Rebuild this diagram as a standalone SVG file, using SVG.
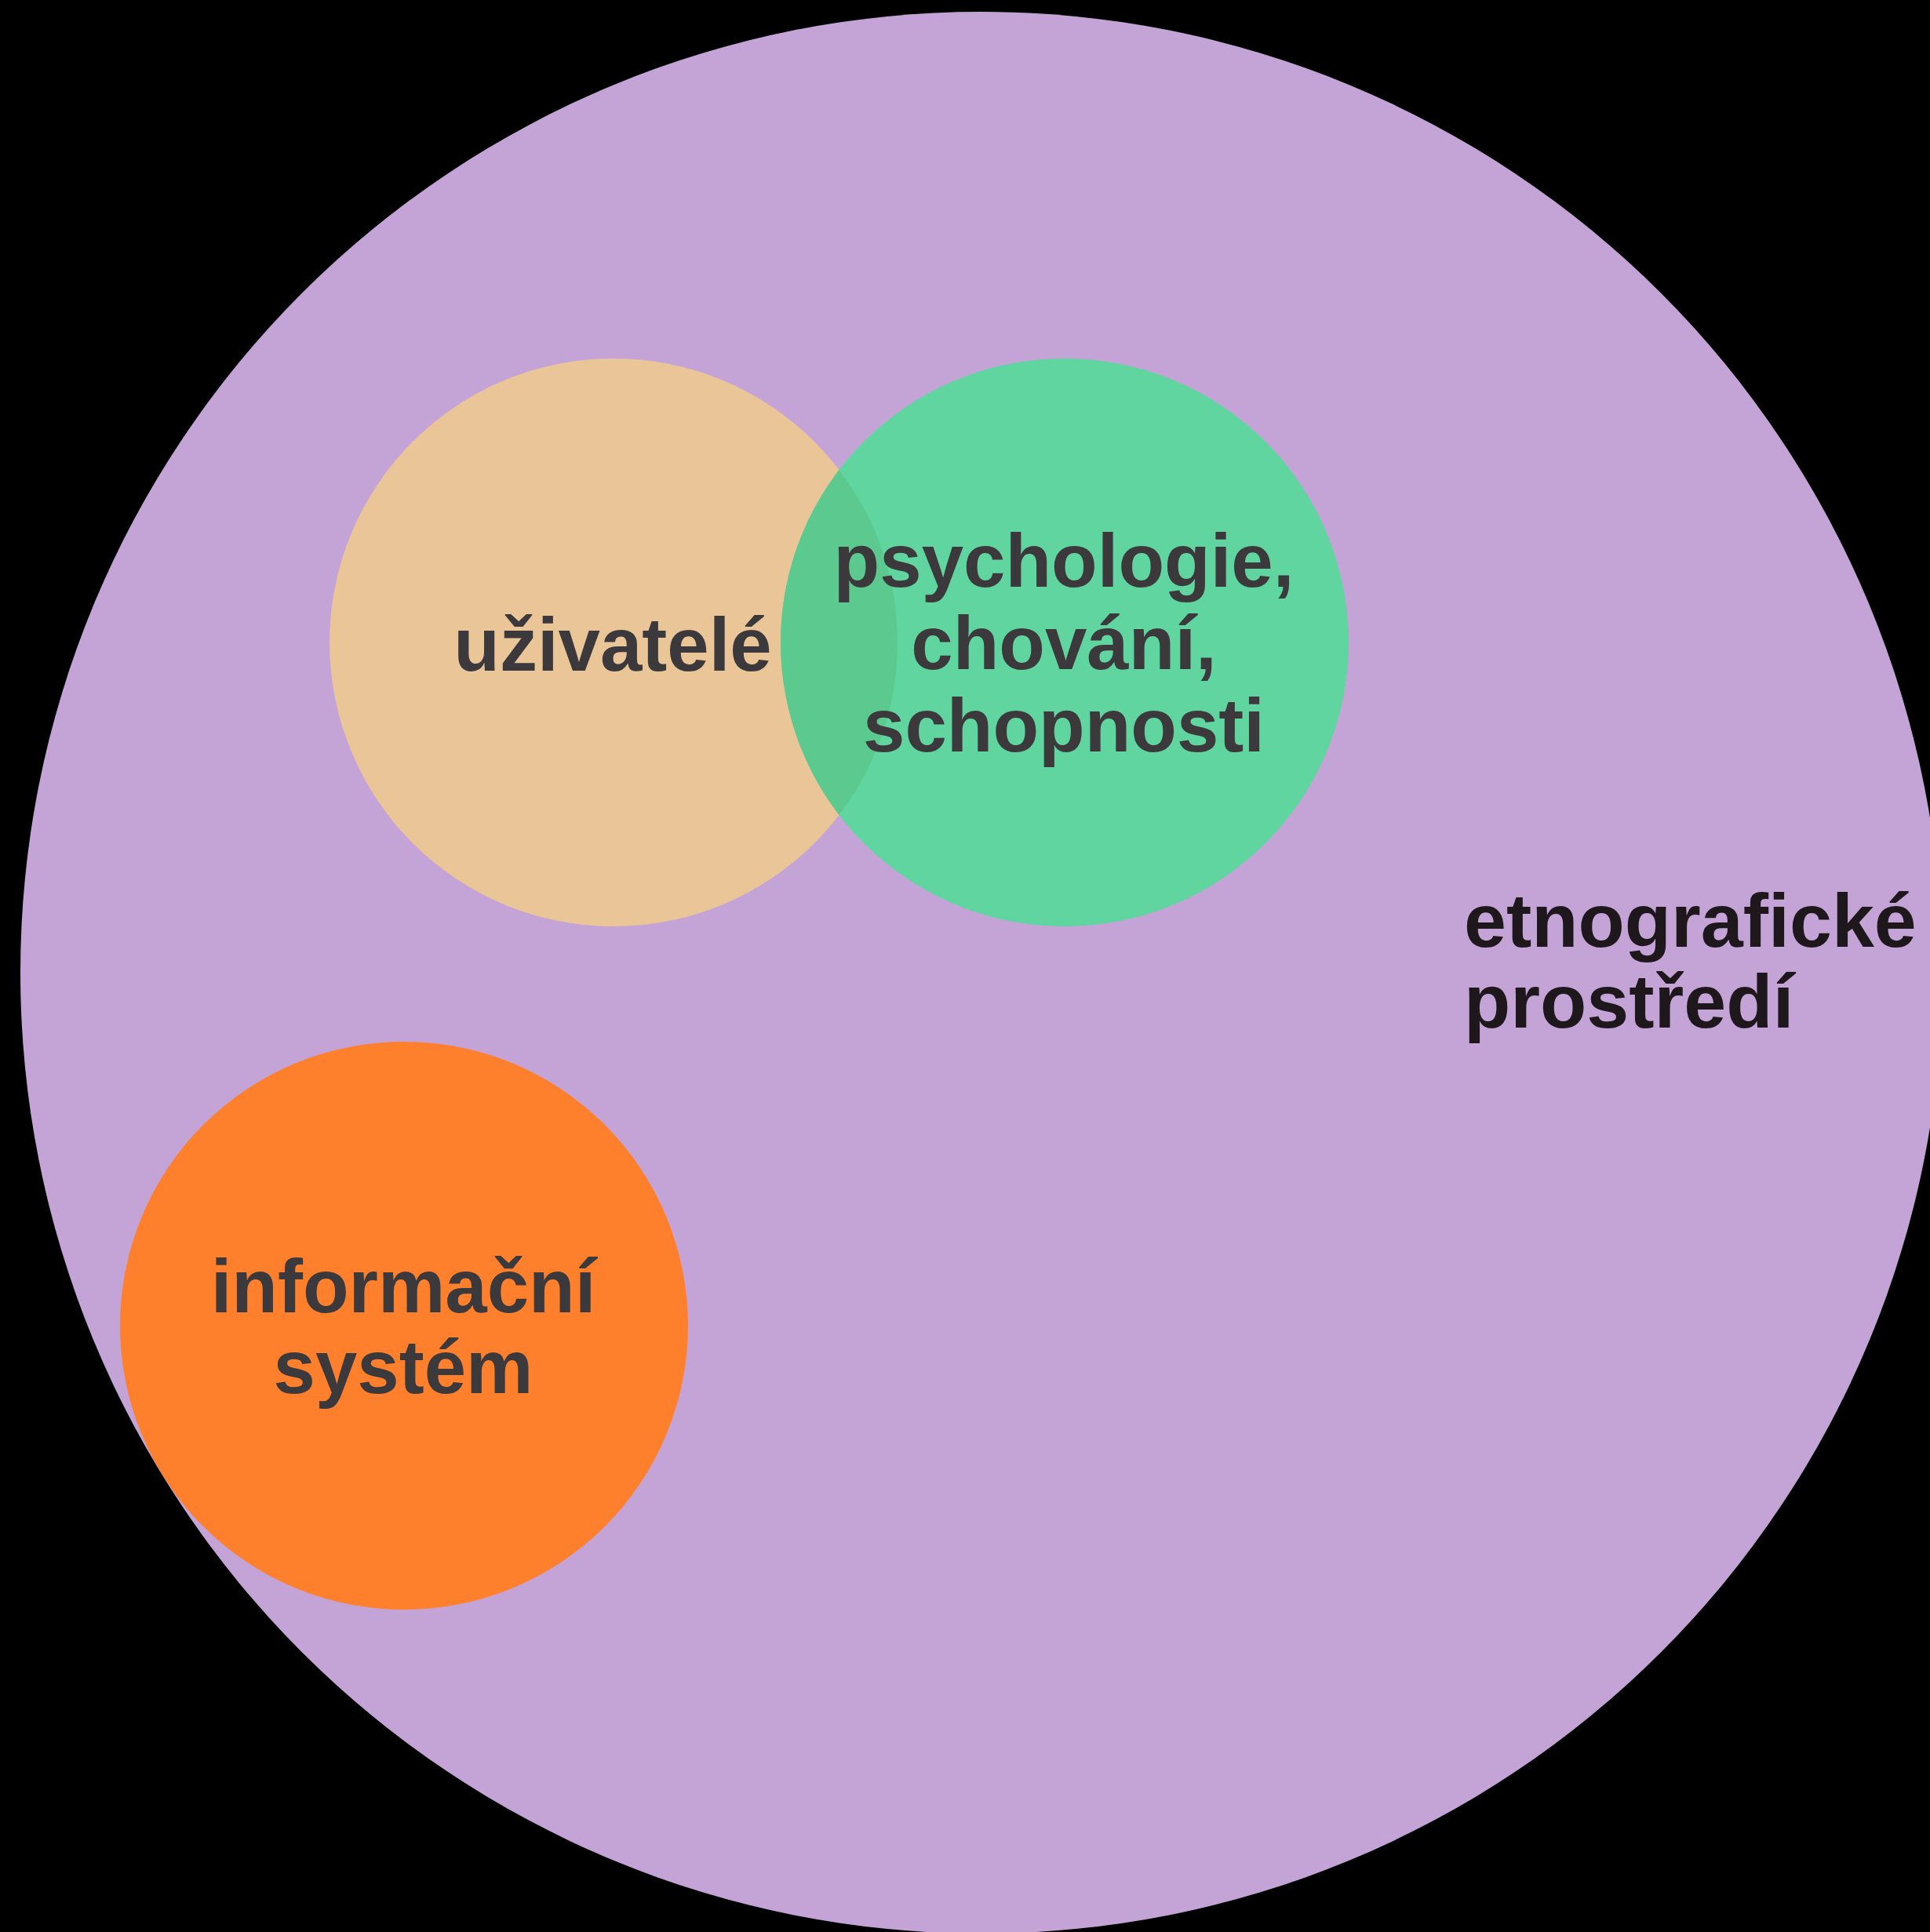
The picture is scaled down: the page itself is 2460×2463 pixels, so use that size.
<svg xmlns="http://www.w3.org/2000/svg" width="2460" height="2463" viewBox="0 0 2460 2463">
<defs>
<style>
.lbl{font-family:"Liberation Sans",Arial,sans-serif;font-weight:bold;font-size:96px;fill:#3c393c;text-anchor:middle}
.env{font-family:"Liberation Sans",Arial,sans-serif;font-weight:bold;font-size:97px;fill:#1e181d}
</style>
<clipPath id="greenClip"><circle cx="1357" cy="819" r="362"/></clipPath>
</defs>
<rect x="0" y="0" width="2460" height="2463" fill="#000000"/>
<g id="etnograficke-prostredi">
<circle cx="1251" cy="1240" r="1225" fill="#c4a4d7"/>
<text class="env" x="1866" y="1207">etnografické</text>
<text class="env" x="1866" y="1310">prostředí</text>
</g>
<g id="uzivatele">
<circle cx="782" cy="819" r="362" fill="#eac597"/>
</g>
<g id="psychologie">
<circle cx="1357" cy="819" r="362" fill="#60d59f"/>
<circle cx="782" cy="819" r="362" fill="#5cc98f" clip-path="url(#greenClip)"/>
<text class="lbl" x="1356" y="748">psychologie,</text>
<text class="lbl" x="1356" y="853">chování,</text>
<text class="lbl" x="1356" y="958">schopnosti</text>
</g>
<g id="uzivatele-label">
<text class="lbl" x="781" y="855">uživatelé</text>
</g>
<g id="informacni-system">
<circle cx="515" cy="1690" r="362" fill="#fe7f2c"/>
<text class="lbl" x="514" y="1673">informační</text>
<text class="lbl" x="514" y="1776">systém</text>
</g>
<g id="connectors"></g>
</svg>
